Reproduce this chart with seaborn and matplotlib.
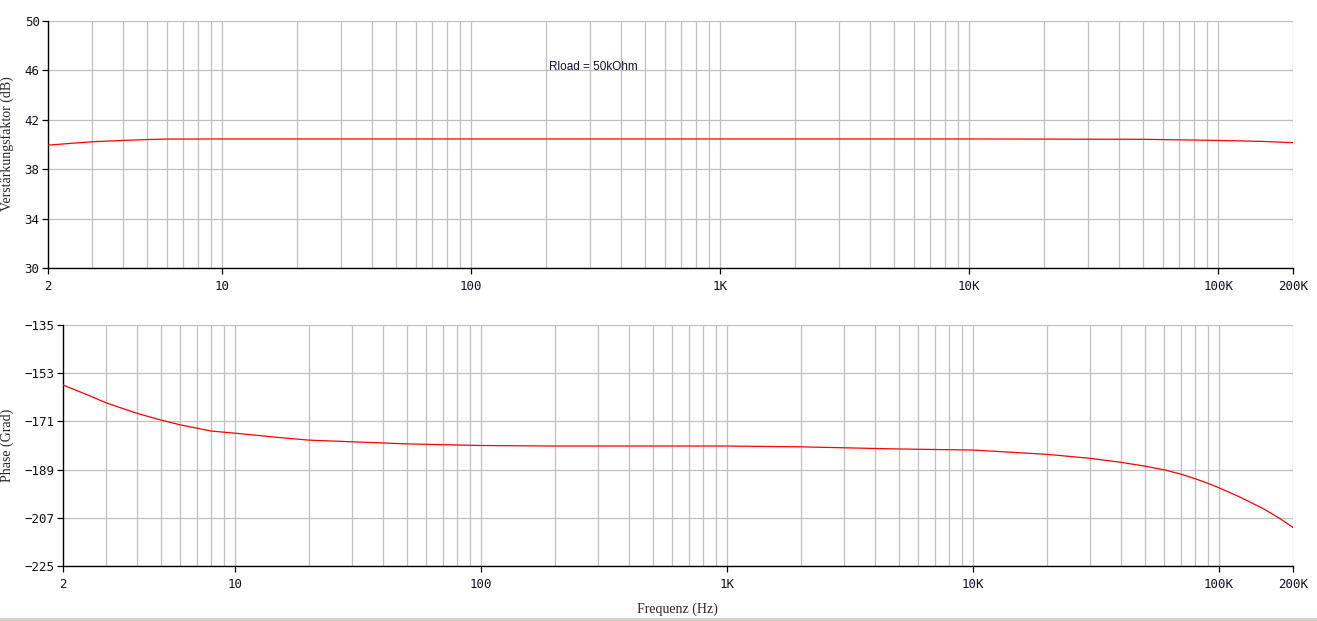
import matplotlib
matplotlib.use("Agg")
from matplotlib import pyplot as plt
from matplotlib.patches import Rectangle
import seaborn as sns
import pandas as pd

# Frequency response
freq_gain = [2, 3, 4, 5, 6, 10, 100, 1000, 10000, 50000, 100000, 150000, 200000]
gain_db = [39.95, 40.22, 40.33, 40.40, 40.44, 40.45, 40.45, 40.45, 40.45, 40.42, 40.33, 40.25, 40.15]

freq_phase = [2, 2.5, 3, 4, 5, 6, 8, 10, 15, 20, 50, 100, 200, 1000, 2000, 5000, 10000,
              20000, 30000, 40000, 50000, 60000, 70000, 80000, 90000, 100000, 120000,
              150000, 175000, 200000]
phase_deg = [-157.4, -161.0, -164.1, -168.0, -170.5, -172.3, -174.6, -175.4, -177.0, -178.0,
             -179.4, -180.0, -180.2, -180.2, -180.5, -181.3, -181.7, -183.3, -184.8, -186.3,
             -187.7, -189.1, -190.7, -192.4, -194.1, -195.8, -199.0, -203.4, -207.0, -210.6]

x_major = [2, 10, 100, 1000, 10000, 100000, 200000]
x_labels = ['2', '10', '100', '1K', '10K', '100K', '200K']
gain_ticks = [30, 34, 38, 42, 46, 50]
phase_ticks = [-225, -207, -189, -171, -153, -135]

x_grid = [m * 10 ** d for d in range(0, 6) for m in range(1, 10) if 2 < m * 10 ** d <= 200000]

sns.set_style("white")
plt.rcParams['font.family'] = ['DejaVu Sans Mono']

W, H = 1317, 621
fig = plt.figure(figsize=(W / 100, H / 100), dpi=100)

ax1 = fig.add_axes([48 / W, 1 - 268 / H, (1293 - 48) / W, (268 - 21) / H])
ax2 = fig.add_axes([63 / W, 1 - 566 / H, (1293 - 63) / W, (566 - 325) / H])

df_gain = pd.DataFrame({'f': freq_gain, 'v': gain_db})
df_phase = pd.DataFrame({'f': freq_phase, 'v': phase_deg})

for ax, df, yticks in [(ax1, df_gain, gain_ticks), (ax2, df_phase, phase_ticks)]:
    ax.set_xscale('log')
    for f in x_grid:
        ax.axvline(f, color='#c0c0c0', lw=0.9, zorder=0)
    for y in yticks:
        ax.axhline(y, color='#c0c0c0', lw=0.9, zorder=0)
    sns.lineplot(data=df, x='f', y='v', ax=ax, color='red', lw=0.9, legend=False, zorder=3)
    ax.set_xlim(2, 200000)
    ax.set_ylim(yticks[0], yticks[-1])
    ax.set_xticks(x_major)
    ax.set_xticklabels(x_labels)
    ax.xaxis.set_minor_locator(matplotlib.ticker.NullLocator())
    ax.set_yticks(yticks)
    ax.set_yticklabels([str(t).replace('-', '\u2212') for t in yticks])
    ax.tick_params(axis='both', which='major', direction='out', length=4, width=0.9,
                   color='black', labelsize=9, labelcolor='#101020', left=True, bottom=True)
    ax.tick_params(axis='x', pad=5)
    ax.tick_params(axis='y', pad=2)
    for s in ['top', 'right']:
        ax.spines[s].set_visible(False)
    for s in ['left', 'bottom']:
        ax.spines[s].set_color('black')
        ax.spines[s].set_linewidth(1.0)
    ax.set_xlabel('')
    ax.set_ylabel('')

ax1.text(205, 46.3, 'Rload = 50kOhm', ha='left', va='center', fontsize=8.5,
         color='#101030', family=['Liberation Sans'])

fig.text(7 / W, 1 - 144 / H, 'Verstärkungsfaktor (dB)', rotation=90, ha='center', va='center',
         fontsize=10, family=['Liberation Serif'])
fig.text(7 / W, 1 - 445 / H, 'Phase (Grad)', rotation=90, ha='center', va='center',
         fontsize=10, family=['Liberation Serif'])
fig.text(677 / W, 1 - 609 / H, 'Frequenz (Hz)', ha='center', va='center',
         fontsize=10, family=['Liberation Serif'])

fig.patches.append(Rectangle((0, 0), 1, 3 / H, transform=fig.transFigure,
                             facecolor='#d4d0c8', edgecolor='none'))

fig.savefig('out.png', dpi=100)
